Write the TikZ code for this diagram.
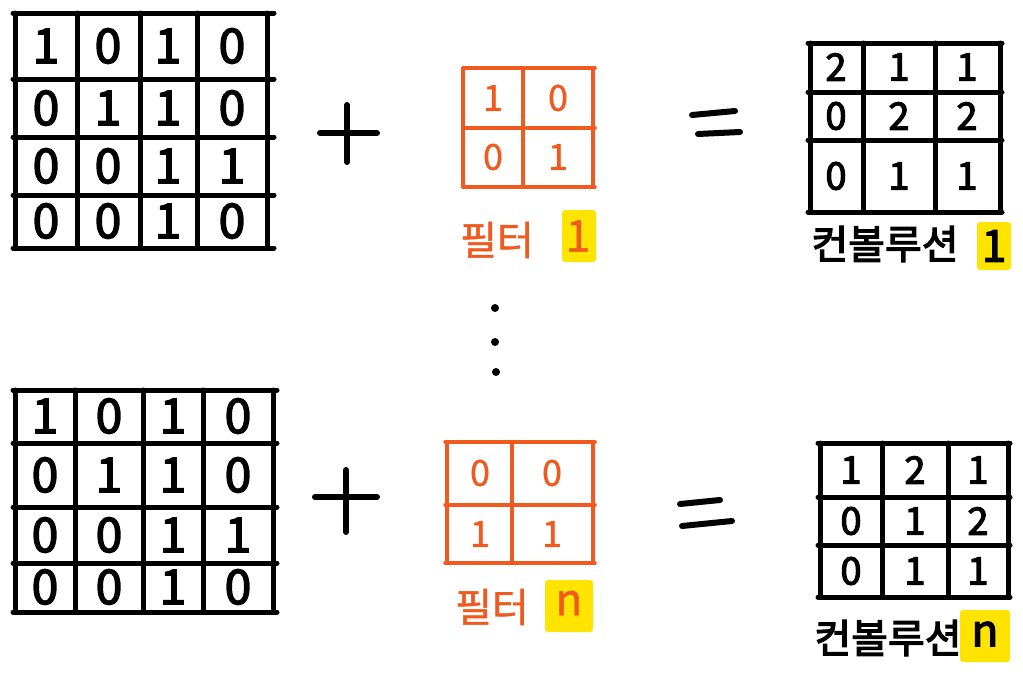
\documentclass[tikz,border=0pt]{standalone}
\usepackage{fontspec}
\newfontfamily\hand[FakeBold=3]{Noto Sans CJK KR}
\newfontfamily\handthin[FakeBold=1]{Noto Sans CJK KR}
\definecolor{filterorange}{RGB}{240,90,30}
\definecolor{hilite}{RGB}{255,228,0}
\tikzset{
  blk/.style={line width=5pt, line cap=round, black},
  org/.style={line width=3.5pt, line cap=round, filterorange},
  indigit/.style={font=\hand\fontsize{48}{48}\selectfont, inner sep=0pt},
  outdigit/.style={font=\hand\fontsize{38}{38}\selectfont, inner sep=0pt},
  bigdigit/.style={font=\hand\fontsize{44}{44}\selectfont, inner sep=0pt},
  fdigit/.style={font=\handthin\fontsize{36}{36}\selectfont, inner sep=0pt, text=filterorange},
  fbig/.style={font=\handthin\fontsize{44}{44}\selectfont, inner sep=0pt, text=filterorange},
  flabel/.style={font=\handthin\fontsize{40}{40}\selectfont, inner sep=0pt, text=filterorange},
  clabel/.style={font=\hand\fontsize{40}{40}\selectfont, inner sep=0pt},
  hl/.style={fill=hilite, draw=none, rounded corners=3pt},
  sign/.style={line width=6pt, line cap=round, black},
  dotmark/.style={circle, fill=black, inner sep=0pt, minimum size=8pt}
}
\begin{document}
\begin{tikzpicture}[x=1pt,y=-1pt]
\useasboundingbox (0,0) rectangle (1023,680);
\fill[white] (0,0) rectangle (1023,680);

% ---------- top input grid ----------
\foreach \x in {15,77,140,197,267} \draw[blk] (\x,13) -- (\x,248);
\foreach \y in {13,79,137,195,248} \draw[blk] (13,\y) -- (274,\y);
\foreach \v [count=\i] in {1,0,1,0,0,1,1,0,0,0,1,1,0,0,1,0}{
  \pgfmathtruncatemacro{\c}{mod(\i-1,4)}
  \pgfmathtruncatemacro{\r}{div(\i-1,4)}
  \pgfmathsetmacro{\cx}{{46,108,168,232}[\c]}
  \pgfmathsetmacro{\cy}{{46,108,166,221}[\r]}
  \node[indigit] (ta\i) at (\cx,\cy) {\v};
}

% ---------- bottom input grid ----------
\foreach \x in {15,75,143,203,273} \draw[blk] (\x,390) -- (\x,612);
\foreach \y in {390,443,507,563,612} \draw[blk] (13,\y) -- (277,\y);
\foreach \v [count=\i] in {1,0,1,0,0,1,1,0,0,0,1,1,0,0,1,0}{
  \pgfmathtruncatemacro{\c}{mod(\i-1,4)}
  \pgfmathtruncatemacro{\r}{div(\i-1,4)}
  \pgfmathsetmacro{\cx}{{45,109,173,238}[\c]}
  \pgfmathsetmacro{\cy}{{416,475,535,587}[\r]}
  \node[indigit] (ba\i) at (\cx,\cy) {\v};
}

% ---------- plus signs ----------
\draw[sign] (320,133) -- (377,133);
\draw[sign] (347,105) -- (347,162);
\draw[sign] (315,497) -- (377,497);
\draw[sign] (346,470) -- (346,532);

% ---------- equals signs ----------
\draw[sign] (692,115) -- (735,111);
\draw[sign] (698,134) -- (740,132);
\draw[sign] (680,504) -- (720,500);
\draw[sign] (682,526) -- (732,521);

% ---------- dots ----------
\node[dotmark] (d1) at (495,308) {};
\node[dotmark] (d2) at (495,342) {};
\node[dotmark] (d3) at (496,372) {};

% ---------- filter 1 ----------
\foreach \x in {463,523,593} \draw[org] (\x,68) -- (\x,187);
\foreach \y in {68,128,187} \draw[org] (463,\y) -- (595,\y);
\node[fdigit] (f1a) at (493,98) {1};
\node[fdigit] (f1b) at (558,98) {0};
\node[fdigit] (f1c) at (493,157) {0};
\node[fdigit] (f1d) at (558,157) {1};
\node[flabel] (f1l) at (497,240) {필터};
\fill[hl] (562,210) rectangle (596,262);
\node[fbig] (f1n) at (578,236) {1};

% ---------- filter n ----------
\foreach \x in {447,512,593} \draw[org] (\x,442) -- (\x,563);
\foreach \y in {442,505,563} \draw[org] (445,\y) -- (595,\y);
\node[fdigit] (fna) at (480,473) {0};
\node[fdigit] (fnb) at (552,473) {0};
\node[fdigit] (fnc) at (480,534) {1};
\node[fdigit] (fnd) at (552,534) {1};
\node[flabel] (fnl) at (492,607) {필터};
\fill[hl] (545,580) rectangle (593,632);
\node[fbig] (fnn) at (569,603) {n};

% ---------- output 1 ----------
\foreach \x in {810,863,935,1000} \draw[blk] (\x,43) -- (\x,212);
\foreach \y in {43,92,140,212} \draw[blk] (808,\y) -- (1002,\y);
\foreach \v [count=\i] in {2,1,1,0,2,2,0,1,1}{
  \pgfmathtruncatemacro{\c}{mod(\i-1,3)}
  \pgfmathtruncatemacro{\r}{div(\i-1,3)}
  \pgfmathsetmacro{\cx}{{836,899,967}[\c]}
  \pgfmathsetmacro{\cy}{{67,116,176}[\r]}
  \node[outdigit] (oa\i) at (\cx,\cy) {\v};
}
\node[clabel] (o1l) at (885,244) {컨볼루션};
\fill[hl] (977,222) rectangle (1011,270);
\node[bigdigit] (o1n) at (994,246) {1};

% ---------- output n ----------
\foreach \x in {820,882,948,1008} \draw[blk] (\x,443) -- (\x,597);
\foreach \y in {443,497,545,597} \draw[blk] (818,\y) -- (1010,\y);
\foreach \v [count=\i] in {1,2,1,0,1,2,0,1,1}{
  \pgfmathtruncatemacro{\c}{mod(\i-1,3)}
  \pgfmathtruncatemacro{\r}{div(\i-1,3)}
  \pgfmathsetmacro{\cx}{{851,915,978}[\c]}
  \pgfmathsetmacro{\cy}{{470,521,571}[\r]}
  \node[outdigit] (ob\i) at (\cx,\cy) {\v};
}
\node[clabel] (onl) at (888,638) {컨볼루션};
\fill[hl] (960,610) rectangle (1010,662);
\node[bigdigit] (onn) at (985,634) {n};
\end{tikzpicture}
\end{document}
